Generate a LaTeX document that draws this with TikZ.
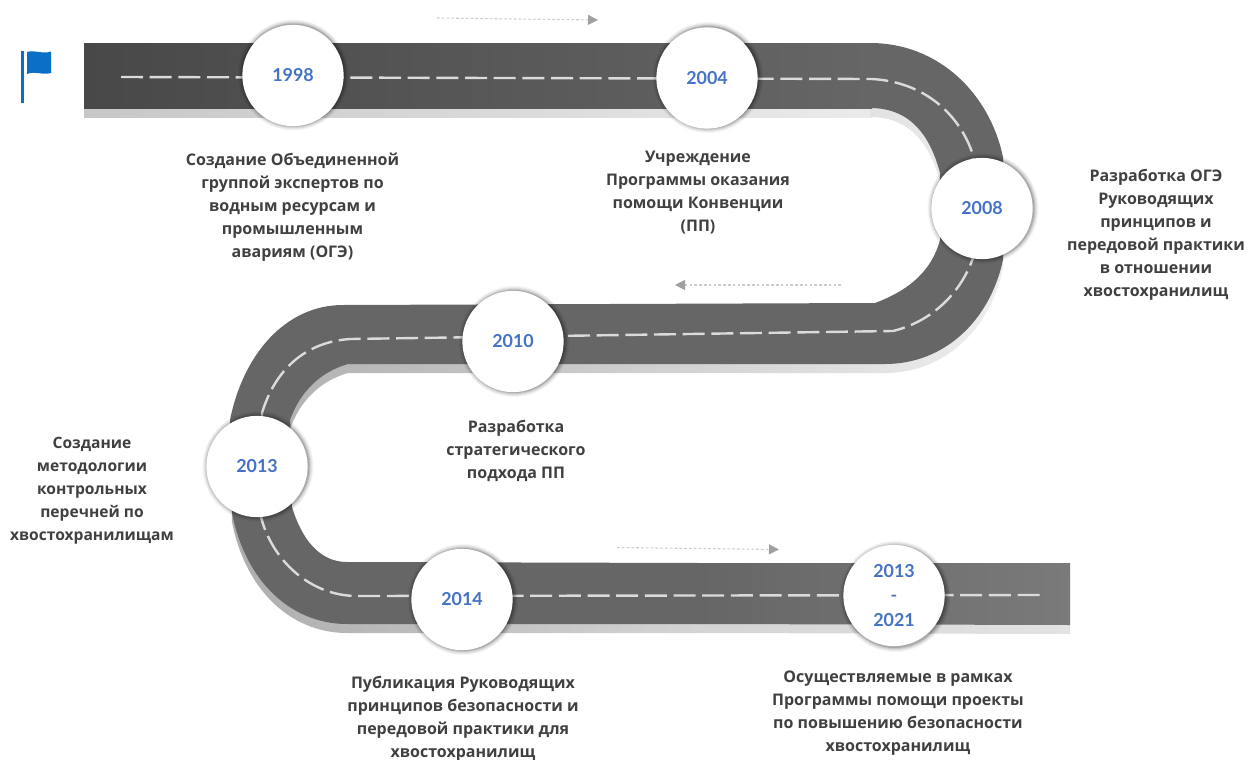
\documentclass[tikz,border=0pt]{standalone}
\usepackage{fontspec}
\setmainfont{Open Sans}
\newfontfamily\yearfont{Lato}
\usetikzlibrary{arrows.meta}
\definecolor{roadA}{HTML}{484848}
\definecolor{roadB}{HTML}{666666}
\definecolor{roadC}{HTML}{7A7A7A}
\definecolor{yearblue}{HTML}{4472C4}
\definecolor{labelgrey}{HTML}{404040}
\definecolor{flagblue}{HTML}{0A6FC6}
\definecolor{hinttip}{HTML}{A0A0A0}
\tikzset{
  caption/.style={font=\bfseries\fontsize{12pt}{17.3pt}\selectfont,text=labelgrey,align=center,inner sep=0pt},
  captionsmall/.style={caption,font=\bfseries\fontsize{11.7pt}{17.3pt}\selectfont},
  yearnode/.style={circle,minimum size=76pt,inner sep=0pt,fill=white,align=center,text=yearblue,font=\yearfont\bfseries\fontsize{13.4pt}{18.2pt}\selectfont},
  lane/.style={draw=black!14,line width=1.8pt,dash pattern=on 16.5pt off 5pt},
  hint/.style={draw=black!20,line width=0.8pt,dash pattern=on 2pt off 1.6pt,-{Triangle[length=7.5pt,width=7.5pt,color=hinttip,fill=hinttip]}},
}
\newcommand{\yearshadow}[2]{%
  \foreach \r/\o in {55.5/.04,54.5/.05,53.5/.07,52.5/.09,51.5/.14}{\fill[black,opacity=\o] (#1+1,#2+1.5) circle[radius=\r];}}
% road pieces, shared by the surface and its side shadow
\newcommand{\pieceTop}{(84,43) -- (872,43) -- (872,108) -- (84,108) -- cycle}
\newcommand{\pieceMid}{(870,43) .. controls (940,43) and (990,95) .. (1003,157) -- (1003,260)
  .. controls (990,320) and (945,364) .. (885,364) -- (348,364)
  .. controls (320,372) and (300,392) .. (290,420) -- (292,507)
  .. controls (302,540) and (320,562) .. (347,562) -- (700,563) -- (700,624) -- (347,624)
  .. controls (290,624) and (245,580) .. (232,513) -- (230,420)
  .. controls (243,355) and (285,305) .. (343,305) -- (875,303)
  .. controls (910,290) and (932,270) .. (940,240) -- (940,173)
  .. controls (930,135) and (910,108) .. (870,108) -- cycle}
\newcommand{\pieceEnd}{(699,563) -- (1070,563) -- (1070,625) -- (699,624) -- cycle}
\begin{document}
\begin{tikzpicture}[x=0.75pt,y=-0.75pt]
\useasboundingbox (0,0) rectangle (1246,760);
% road side shadow: the road moved down
\begin{scope}[yshift=-6.75pt]
\shade[left color=black!22,right color=black!8,shading angle=90] \pieceTop;
\shade[left color=black!32,right color=black!7,shading angle=90] \pieceMid;
\shade[left color=black!17,right color=black!11,shading angle=90] \pieceEnd;
\end{scope}
% road surface
\shade[left color=roadA,right color=roadB,shading angle=90] \pieceTop;
\fill[roadB] \pieceMid;
\shade[left color=roadB,right color=roadC,shading angle=90] \pieceEnd;
% lane markings
\draw[lane] (121,77) -- (872,79) .. controls (925,82) and (960,115) .. (973,155) -- (973,258)
  .. controls (960,295) and (930,322) .. (893,331) -- (350,339)
  .. controls (305,342) and (275,370) .. (262,413) -- (261,517)
  .. controls (272,560) and (310,596) .. (357,596) -- (1042,595);
% direction hints
\coordinate (h1a) at (437,18); \coordinate (h1b) at (598,20);
\coordinate (h2a) at (841,285); \coordinate (h2b) at (675,285);
\coordinate (h3a) at (617,547.5); \coordinate (h3b) at (779,549.5);
\draw[hint] (h1a) -- (h1b);
\draw[hint] (h2a) -- (h2b);
\draw[hint] (h3a) -- (h3b);
% flag
\draw[flagblue,line width=2.6pt] (22.7,51) -- (22.7,103);
\fill[flagblue] (27,52) .. controls (35,49.5) and (42,54.5) .. (51,51.5) -- (51,73)
  .. controls (42,75.5) and (35,70.5) .. (27,74) -- cycle;
% year circles
\yearshadow{292.5}{73.5}\node[yearnode] (y1998) at (293,75.5) {1998};
\yearshadow{707}{76}\node[yearnode] (y2004) at (707,78) {2004};
\yearshadow{982}{207}\node[yearnode] (y2008) at (982,208.5) {2008};
\yearshadow{513}{340}\node[yearnode] (y2010) at (513,341.5) {2010};
\yearshadow{257}{465}\node[yearnode] (y2013) at (257,466.5) {2013};
\yearshadow{462}{598}\node[yearnode] (y2014) at (462,599.5) {2014};
\yearshadow{894}{595}\node[yearnode] (y2021) at (894,595.5) {2013\\-\\2021};
% captions
\node[caption] (t1998) at (292.5,207.5) {Создание Объединенной\\группой экспертов по\\водным ресурсам и\\промышленным\\авариям (ОГЭ)};
\node[caption] (t2004) at (698,192.5) {Учреждение\\Программы оказания\\помощи Конвенции\\(ПП)};
\node[caption] (t2008) at (1156,235) {Разработка ОГЭ\\Руководящих\\принципов и\\передовой практики\\в отношении\\хвостохранилищ};
\node[caption] (t2010) at (516,451) {Разработка\\стратегического\\подхода ПП};
\node[captionsmall] (t2013) at (92,491) {Создание\\методологии\\контрольных\\перечней по\\хвостохранилищам};
\node[caption] (t2014) at (463,718.5) {Публикация Руководящих\\принципов безопасности и\\передовой практики для\\хвостохранилищ};
\node[caption] (t2021) at (898,713) {Осуществляемые в рамках\\Программы помощи проекты\\по повышению безопасности\\хвостохранилищ};
\end{tikzpicture}
\end{document}
